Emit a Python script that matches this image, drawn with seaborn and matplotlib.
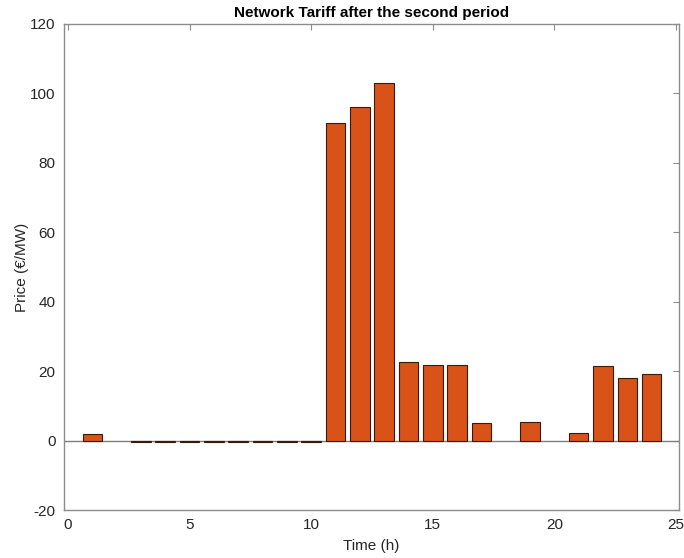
import matplotlib
matplotlib.use('Agg')
import matplotlib.pyplot as plt
import seaborn as sns
import pandas as pd

# Hourly network tariff values
hours = list(range(1, 25))
tariff = [2.0, 0.0, -0.3, -0.3, -0.3, -0.3, -0.3, -0.3, -0.3, -0.3,
          91.5, 96.0, 103.0, 22.6, 21.8, 21.8, 5.1, 0.0, 5.3, 0.0,
          2.1, 21.5, 17.9, 19.1]
x_ticks = [0, 5, 10, 15, 20, 25]
y_ticks = [-20, 0, 20, 40, 60, 80, 100, 120]


def main():
    sns.set_theme(style='white')
    plt.rcParams['font.family'] = ['Liberation Sans', 'DejaVu Sans']
    plt.rcParams['axes.unicode_minus'] = False

    df = pd.DataFrame({'Time': hours, 'Price': tariff})

    fig = plt.figure(figsize=(6.84, 5.58), dpi=100)
    ax = fig.add_axes([0.0936, 0.086, 0.899, 0.871])

    sns.barplot(data=df, x='Time', y='Price', native_scale=True, width=0.8,
                color='#D95319', saturation=1, edgecolor='#3a1a0a',
                linewidth=0.8, ax=ax, zorder=3)
    # zero-height bars are hidden by the baseline in the original
    for p in ax.patches:
        if p.get_height() == 0:
            p.set_visible(False)
    ax.axhline(0, color='#7f7f7f', linewidth=1, zorder=2)

    ax.set_xlim(-0.16, 25.12)
    ax.set_ylim(-20, 120)
    ax.set_xticks(x_ticks)
    ax.set_yticks(y_ticks)
    ax.tick_params(direction='in', length=4, width=0.8, colors='#8c8c8c',
                   labelcolor='#262626', labelsize=11, top=True, right=True)
    ax.tick_params(axis='y', pad=6)
    ax.tick_params(axis='x', pad=6)
    for s in ax.spines.values():
        s.set_color('#8c8c8c')
        s.set_linewidth(1)
        s.set_visible(True)

    ax.set_xlabel('Time (h)', fontsize=11, color='#262626', labelpad=5)
    ax.set_ylabel('Price (€/MW)', fontsize=11, color='#262626', labelpad=1)
    ax.set_title('Network Tariff after the second period', fontsize=11,
                 fontweight='bold', color='black', pad=5)

    fig.savefig('out.png', dpi=100)


if __name__ == '__main__':
    main()
